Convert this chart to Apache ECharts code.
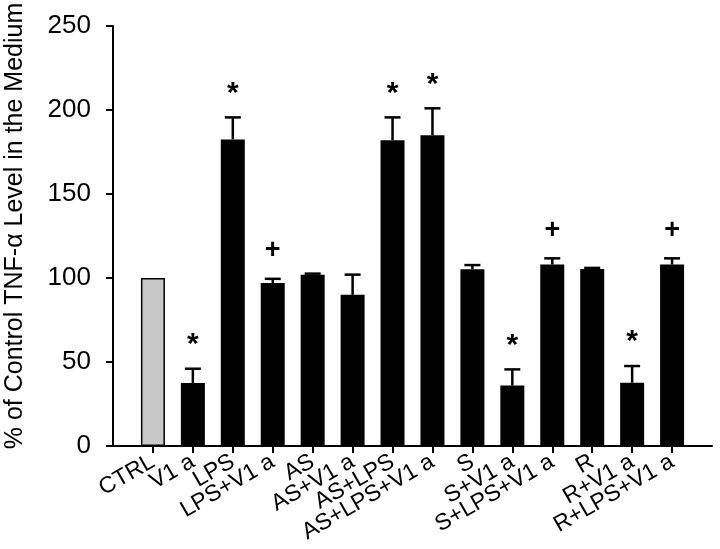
<!DOCTYPE html>
<html style="height: 100%">
<head>
<meta charset="utf-8" />
<script src="https://cdn.jsdelivr.net/npm/echarts@6/dist/echarts.min.js"></script>
</head>
<body style="height: 100%; margin: 0; background: #fff">
<div id="container" style="width: 720px; height: 549px"></div>
<script type="text/javascript">
// groups on the x axis
let groups = ["CTRL", "V1 a", "LPS", "LPS+V1 a", "AS", "AS+V1 a", "AS+LPS", "AS+LPS+V1 a",
  "S", "S+V1 a", "S+LPS+V1 a", "R", "R+V1 a", "R+LPS+V1 a"];
// mean values (% of control)
let means = [100, 37.5, 182.5, 97, 102, 90, 182, 185, 105.2, 36, 108, 105.4, 37.7, 108];
// top of the error bar (mean + SEM)
let errTops = [100, 46, 195.6, 99.5, 102.6, 102, 195.6, 201, 107.7, 45.6, 111.7, 106, 47.6, 111.7];
// significance marks above each bar
let marks = ["", "*", "*", "+", "", "", "*", "*", "", "*", "+", "", "*", "+"];
let yTicks = [0, 50, 100, 150, 200, 250];
let yTitle = "% of Control TNF-\u03b1 Level in the Medium";

let font = "Arial, 'Liberation Sans', sans-serif";

// pad one empty slot on each side so the bars sit one step in from the axis ends
let cats = [""].concat(groups, [""]);
let barData = ["-"];
let errData = [];
groups.forEach((g, i) => {
  barData.push({
    value: means[i],
    itemStyle: i === 0 ? {color: "#c8c8c8", borderColor: "#000", borderWidth: 1.5} : {color: "#000"}
  });
  errData.push([i + 1, means[i], errTops[i], marks[i]]);
});
barData.push("-");

let chart = echarts.init(document.getElementById("container"));
chart.setOption({
  animation: false,
  backgroundColor: "#fff",
  grid: {left: 113, right: 8, top: 26, bottom: 103},
  // axis title sits a little above the grid middle, as in the source figure
  graphic: [{
    type: "text",
    x: 15,
    y: 226,
    rotation: Math.PI / 2,
    style: {
      text: yTitle,
      align: "center",
      verticalAlign: "middle",
      fill: "#000",
      font: "25px " + font
    }
  }],
  xAxis: {
    type: "category",
    data: cats,
    boundaryGap: false,
    axisLine: {lineStyle: {color: "#000", width: 2}},
    axisTick: {
      length: 7,
      lineStyle: {color: "#000", width: 2},
      interval: (idx, val) => val !== ""
    },
    axisLabel: {
      interval: 0,
      rotate: 30,
      margin: 14,
      color: "#000",
      fontSize: 23,
      fontFamily: font
    }
  },
  yAxis: {
    type: "value",
    min: yTicks[0],
    max: yTicks[yTicks.length - 1],
    interval: 50,
    axisLine: {show: true, lineStyle: {color: "#000", width: 2}},
    axisTick: {show: true, length: 7, lineStyle: {color: "#000", width: 2}},
    splitLine: {show: false},
    axisLabel: {color: "#000", fontSize: 26, fontFamily: font, margin: 22}
  },
  series: [
    {
      type: "bar",
      data: barData,
      barWidth: 24
    },
    {
      type: "custom",
      data: errData,
      z: 5,
      renderItem: function (params, api) {
        let x = api.value(0);
        let base = api.coord([x, api.value(1)]);
        let top = api.coord([x, api.value(2)]);
        let mark = errData[params.dataIndex][3];
        let children = [];
        if (api.value(2) > api.value(1)) {
          children.push({
            type: "line",
            shape: {x1: base[0], y1: base[1], x2: top[0], y2: top[1]},
            style: {stroke: "#000", lineWidth: 2.5}
          });
          children.push({
            type: "line",
            shape: {x1: top[0] - 8, y1: top[1], x2: top[0] + 8, y2: top[1]},
            style: {stroke: "#000", lineWidth: 2.5}
          });
        }
        if (mark) {
          children.push({
            type: "text",
            style: {
              text: mark,
              x: top[0],
              y: top[1] - (mark === "*" ? 24 : 28),
              align: "center",
              verticalAlign: "middle",
              fill: "#000",
              font: "bold " + (mark === "*" ? 30 : 27) + "px " + font
            }
          });
        }
        return {type: "group", children: children};
      }
    }
  ]
});
</script>
</body>
</html>
